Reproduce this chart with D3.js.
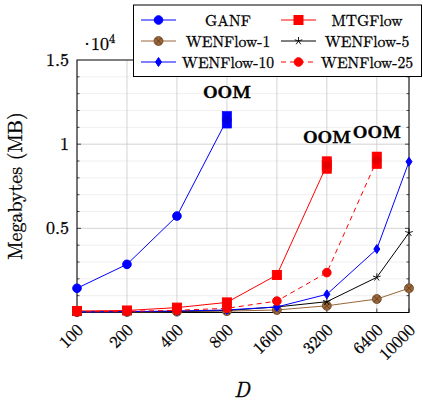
<!DOCTYPE html>
<html>
<head>
<meta charset="utf-8">
<script src="https://cdn.jsdelivr.net/npm/d3@7"></script>
<style>
  body { margin: 0; background: #fff; }
  svg { display: block; }
  svg text { stroke: #000; stroke-width: 0.3px; }
</style>
</head>
<body>
<div id="chart"></div>
<script>
// data, memory in MB, D on log axis
var dims = [100, 200, 400, 800, 1600, 3200, 6400, 10000];
var ganf = [1440, 2860, 5730, 11450];                 // OOM after 800
var mtgflow = [90, 120, 290, 600, 2230, 8760];        // OOM after 3200
var wen1 = [20, 30, 50, 80, 150, 400, 800, 1440];
var wen5 = [25, 40, 70, 120, 330, 640, 2090, 4740];
var wen10 = [30, 50, 90, 150, 330, 1080, 3770, 8960];
var wen25 = [40, 70, 130, 250, 680, 2370, 9040];      // OOM after 6400
var yTicks = [5000, 10000, 15000];
var yTickLabels = ["0.5", "1", "1.5"];

var series = [
  {name: "GANF", vals: ganf, color: "#0000ff", marker: "circle", dash: null, oom: true},
  {name: "MTGFlow", vals: mtgflow, color: "#ff0000", marker: "square", dash: null, oom: true},
  {name: "WENFlow-1", vals: wen1, color: "#99663a", marker: "otimes", dash: null, oom: false},
  {name: "WENFlow-5", vals: wen5, color: "#000000", marker: "star", dash: null, oom: false},
  {name: "WENFlow-10", vals: wen10, color: "#0000ff", marker: "diamond", dash: null, oom: false},
  {name: "WENFlow-25", vals: wen25, color: "#ff0000", marker: "circle", dash: "5,4", oom: true}
];

var width = 423, height = 402;
var pLeft = 77, pRight = 409, pTop = 60, pBottom = 312.5;
var FONT = "'Latin Modern Roman'";

var svg = d3.select("#chart").append("svg")
    .attr("width", width)
    .attr("height", height);

var x = d3.scaleLog().domain([100, 10000]).range([pLeft, pRight]);
var y = d3.scaleLinear().domain([0, 15000]).range([pBottom, pTop]);

// grid
var grid = svg.append("g");
grid.selectAll(".minor")
    .data(d3.range(1000, 15000, 1000).filter(function(v) { return v % 5000 != 0; }))
  .enter().append("line")
    .attr("x1", pLeft).attr("x2", pRight)
    .attr("y1", function(d) { return y(d); })
    .attr("y2", function(d) { return y(d); })
    .attr("stroke", "#ebebeb").attr("stroke-width", 0.8);
grid.selectAll(".majorY")
    .data([5000, 10000])
  .enter().append("line")
    .attr("x1", pLeft).attr("x2", pRight)
    .attr("y1", function(d) { return y(d); })
    .attr("y2", function(d) { return y(d); })
    .attr("stroke", "#c8c8c8").attr("stroke-width", 0.8);
grid.selectAll(".majorX")
    .data(dims)
  .enter().append("line")
    .attr("x1", function(d) { return x(d); })
    .attr("x2", function(d) { return x(d); })
    .attr("y1", pTop).attr("y2", pBottom)
    .attr("stroke", "#c8c8c8").attr("stroke-width", 0.8);

// ticks inside on left and right
var tk = svg.append("g").attr("stroke", "#000").attr("stroke-width", 0.7);
d3.range(1000, 15000, 1000).forEach(function(v) {
  var len = v % 5000 == 0 ? 4 : 2.5;
  tk.append("line").attr("x1", pLeft).attr("x2", pLeft + len).attr("y1", y(v)).attr("y2", y(v));
  tk.append("line").attr("x1", pRight).attr("x2", pRight - len).attr("y1", y(v)).attr("y2", y(v));
});
dims.forEach(function(d) {
  tk.append("line").attr("x1", x(d)).attr("x2", x(d)).attr("y1", pBottom).attr("y2", pBottom - 4);
});

// frame
svg.append("rect")
    .attr("x", pLeft).attr("y", pTop)
    .attr("width", pRight - pLeft).attr("height", pBottom - pTop)
    .attr("fill", "none").attr("stroke", "#000").attr("stroke-width", 1);

// y labels
svg.selectAll(".ylab")
    .data(yTicks)
  .enter().append("text")
    .attr("x", 69)
    .attr("y", function(d) { return y(d) + 6; })
    .attr("text-anchor", "end")
    .style("font-family", FONT)
    .attr("font-size", "18px")
    .text(function(d, i) { return yTickLabels[i]; });

var sc = svg.append("text").attr("x", 80).attr("y", 50)
    .style("font-family", FONT).attr("font-size", "18px");
sc.append("tspan").text("\u00b7");
sc.append("tspan").attr("dx", -3).text("10");
sc.append("tspan").attr("dy", -7).attr("font-size", "12.5px").text("4");

// x labels, rotated
svg.selectAll(".xlab")
    .data(dims)
  .enter().append("text")
    .attr("text-anchor", "end")
    .style("font-family", FONT)
    .attr("font-size", "17px")
    .attr("transform", function(d) { return "translate(" + (x(d) + 7) + "," + 331 + ") rotate(-45)"; })
    .text(function(d) { return d; });

svg.append("text")
    .attr("x", 242).attr("y", 397)
    .attr("text-anchor", "middle")
    .style("font-family", FONT)
    .attr("font-size", "21px")
    .attr("font-style", "italic")
    .text("D");

svg.append("text")
    .attr("transform", "translate(22,186) rotate(-90)")
    .attr("text-anchor", "middle")
    .style("font-family", FONT)
    .attr("font-size", "20px")
    .text("Megabytes (MB)");

// markers
function drawMarker(g, kind, color, cx, cy) {
  if (kind == "circle") {
    g.append("circle").attr("cx", cx).attr("cy", cy).attr("r", 4.3)
      .attr("fill", color).attr("stroke", color);
  } else if (kind == "square") {
    g.append("rect").attr("x", cx - 4.5).attr("y", cy - 4.5).attr("width", 9).attr("height", 9)
      .attr("fill", color).attr("stroke", color);
  } else if (kind == "diamond") {
    g.append("path").attr("d", "M" + cx + "," + (cy - 4.5) + "L" + (cx + 3) + "," + cy +
        "L" + cx + "," + (cy + 4.5) + "L" + (cx - 3) + "," + cy + "Z")
      .attr("fill", color).attr("stroke", color);
  } else if (kind == "otimes") {
    g.append("circle").attr("cx", cx).attr("cy", cy).attr("r", 4.5)
      .attr("fill", color).attr("stroke", "#6b4524").attr("stroke-width", 0.8);
    g.append("path").attr("d", "M" + (cx - 3) + "," + (cy - 3) + "L" + (cx + 3) + "," + (cy + 3) +
        "M" + (cx + 3) + "," + (cy - 3) + "L" + (cx - 3) + "," + (cy + 3))
      .attr("stroke", "#5a3a1e").attr("stroke-width", 0.8);
  } else if (kind == "star") {
    var p = "";
    for (var k = 0; k < 5; k++) {
      var a = -Math.PI / 2 + k * 2 * Math.PI / 5;
      p += "M" + cx + "," + cy + "L" + (cx + 4 * Math.cos(a)) + "," + (cy + 4 * Math.sin(a));
    }
    g.append("path").attr("d", p).attr("stroke", color).attr("stroke-width", 0.9).attr("fill", "none");
  }
}

var line = d3.line()
    .x(function(d, i) { return x(dims[i]); })
    .y(function(d) { return y(d); });

var plot = svg.append("g");
series.forEach(function(s) {
  plot.append("path")
      .datum(s.vals)
      .attr("d", line)
      .attr("fill", "none")
      .attr("stroke", s.color)
      .attr("stroke-width", 1)
      .attr("stroke-dasharray", s.dash);
  var mg = plot.append("g");
  s.vals.forEach(function(v, i) { drawMarker(mg, s.marker, s.color, x(dims[i]), y(v)); });
});

// OOM marks at last point
series.filter(function(s) { return s.oom; }).forEach(function(s) {
  var i = s.vals.length - 1;
  var cx = x(dims[i]), cy = y(s.vals[i]);
  plot.append("rect")
      .attr("x", cx - 4.7).attr("y", cy - 8.3)
      .attr("width", 9.4).attr("height", 16.6)
      .attr("fill", s.color).attr("stroke", s.color).attr("stroke-width", 0.6);
  plot.append("circle").attr("cx", cx).attr("cy", cy).attr("r", 4)
      .attr("fill", d3.color(s.color).darker(0.6)).attr("opacity", 0.6);
});

var oomLabels = [
  {d: 800, v: ganf[3], dx: 0, dy: -22},
  {d: 3200, v: mtgflow[5], dx: 0, dy: -22},
  {d: 6400, v: wen25[6], dx: 0, dy: -22}
];
svg.selectAll(".oom")
    .data(oomLabels)
  .enter().append("text")
    .attr("x", function(d) { return x(d.d) + d.dx; })
    .attr("y", function(d) { return y(d.v) + d.dy; })
    .attr("text-anchor", "middle")
    .style("font-family", FONT)
    .style("stroke-width", "0.6px")
    .attr("font-size", "17px")
    .attr("font-weight", "bold")
    .text("OOM");

// legend
var lg = svg.append("g");
lg.append("rect")
    .attr("x", 133.5).attr("y", 5)
    .attr("width", 288).attr("height", 71.5)
    .attr("fill", "#fff").attr("stroke", "#000").attr("stroke-width", 1);
series.forEach(function(s, i) {
  var col = i % 2, row = Math.floor(i / 2);
  var ly = 20 + row * 21;
  var lx = col == 0 ? 141 : 281;
  lg.append("line")
      .attr("x1", lx).attr("x2", lx + 35)
      .attr("y1", ly).attr("y2", ly)
      .attr("stroke", s.color).attr("stroke-width", 1)
      .attr("stroke-dasharray", s.dash);
  drawMarker(lg, s.marker, s.color, lx + 17.5, ly);
  lg.append("text")
      .attr("x", col == 0 ? 228 : 367)
      .attr("y", ly + 5.5)
      .attr("text-anchor", "middle")
      .style("font-family", FONT)
      .attr("font-size", "15.6px")
      .text(s.name);
});
</script>
</body>
</html>
